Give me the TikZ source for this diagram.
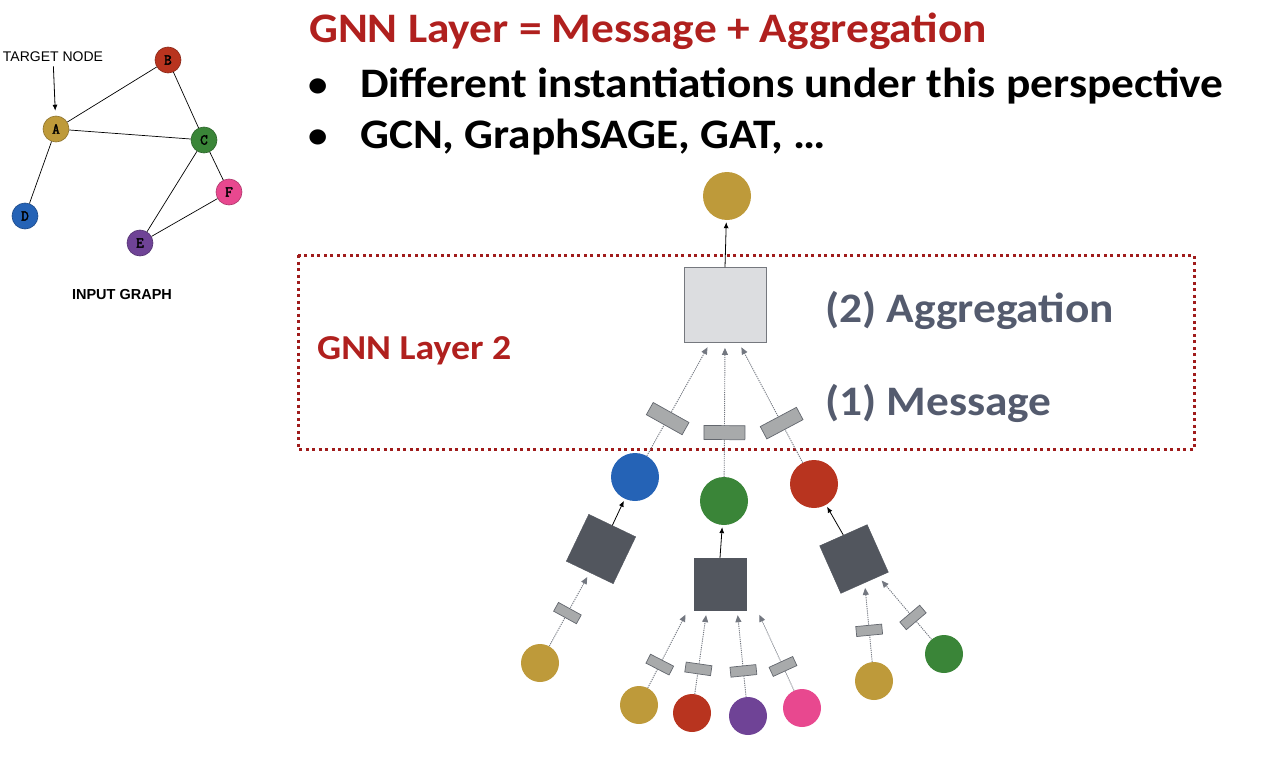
\documentclass[tikz,border=0pt]{standalone}
\usepackage{fontspec}
\setmainfont{Carlito}
\newfontfamily\widefont[FakeStretch=1.08]{Carlito}
\newfontfamily\helv{Liberation Sans}
\newfontfamily\cour[FakeBold=2.5]{Latin Modern Mono}
\usetikzlibrary{arrows.meta,positioning}

\definecolor{vgold}{HTML}{BE9A3A}
\definecolor{vred}{HTML}{B8341F}
\definecolor{vgreen}{HTML}{3A8538}
\definecolor{vblue}{HTML}{2563B6}
\definecolor{vpurple}{HTML}{6F4396}
\definecolor{vpink}{HTML}{E8488F}
\definecolor{darkbox}{HTML}{52565E}
\definecolor{lightbox}{HTML}{DCDDE0}
\definecolor{msgfill}{HTML}{A8AAAB}
\definecolor{titlered}{HTML}{B0201E}
\definecolor{borderred}{HTML}{A01C1C}
\definecolor{slate}{HTML}{545B6E}
\definecolor{arrowgray}{HTML}{737780}

\begin{document}
\begin{tikzpicture}[
  x=1pt, y=-1pt,
  vert/.style={circle, fill=#1, draw=#1!75!black, line width=0.6pt,
               minimum size=26pt, inner sep=0pt, font=\cour\fontsize{15}{15}\selectfont},
  emb/.style={circle, fill=#1, minimum size=48pt, inner sep=0pt},
  leaf/.style={circle, fill=#1, minimum size=38pt, inner sep=0pt},
  agg/.style={draw=darkbox, fill=darkbox, minimum size=52pt, inner sep=0pt},
  msg/.style={solid, draw=darkbox!90, fill=msgfill, line width=0.7pt, sloped,
              minimum width=14pt, minimum height=41pt, inner sep=0pt},
  smallmsg/.style={msg, minimum width=10pt, minimum height=26pt},
  headline/.style={anchor=base west, inner sep=0pt, font=\widefont\bfseries\fontsize{42}{42}\selectfont},
  flow/.style={-{Latex[length=6pt,width=5pt]}, line width=0.8pt, shorten >=2pt},
  msgflow/.style={-{Triangle[length=7pt,width=6pt]}, arrowgray, line width=0.9pt,
                  dash pattern=on 1.2pt off 1pt, shorten >=5pt}
]
  \useasboundingbox (0,0) rectangle (1280,779);

  % input graph
  \node[vert=vgold] (A) at (56,129) {A};
  \node[vert=vred] (B) at (168,60) {B};
  \node[vert=vgreen] (C) at (204,140) {C};
  \node[vert=vblue] (D) at (25,216) {D};
  \node[vert=vpurple] (E) at (140,243) {E};
  \node[vert=vpink] (F) at (229,192) {F};
  \draw[line width=0.7pt] (A) -- (B) (A) -- (C) (B) -- (C) (A) -- (D)
    (C) -- (E) (C) -- (F) (E) -- (F);
  \node[font=\helv\fontsize{14}{14}\selectfont] (target) at (53,57) {TARGET NODE};
  \draw[flow, shorten <=1pt, shorten >=5pt] (target) -- (A);
  \node[font=\helv\bfseries\fontsize{14.5}{14.5}\selectfont] (input) at (122,295) {INPUT GRAPH};

  % header
  \node[headline, text=titlered] (title) at (309,42) {GNN Layer = Message + Aggregation};
  \node[headline] (pt1) at (308,97)
        {\makebox[52pt][l]{\fontsize{36}{36}\selectfont\raisebox{1pt}{\textbullet}}Different instantiations under this perspective};
  \node[headline] (pt2) at (308,148)
        {\makebox[52pt][l]{\fontsize{36}{36}\selectfont\raisebox{1pt}{\textbullet}}GCN, GraphSAGE, GAT, \ldots};

  % layer 2
  \draw[borderred, line width=3pt, dash pattern=on 3pt off 3.5pt] (298,255) rectangle (1194,449);
  \node[headline, text=titlered, font=\widefont\bfseries\fontsize{35}{35}\selectfont]
        (layer) at (317,359) {GNN Layer 2};
  \node[headline, text=slate] (aggtext) at (825,322) {(2) Aggregation};
  \node[headline, text=slate] (msgtext) at (825,415) {(1) Message};

  \node[emb=vgold] (out) at (727,196) {};
  \node[draw=darkbox!80, fill=lightbox, line width=0.8pt, minimum width=82pt,
        minimum height=75pt, inner sep=0pt] (aggtop) at (725,305) {};
  \draw[flow] (aggtop.north) -- (out);

  \node[emb=vblue] (blue1) at (635,477) {};
  \node[emb=vgreen] (green1) at (724,501) {};
  \node[emb=vred] (red1) at (814,484) {};
  \draw[msgflow] (blue1) -- node[msg, pos=0.33] {} ([xshift=-15pt]aggtop.south);
  \draw[msgflow] (green1) -- node[msg, pos=0.33] {} (aggtop.south);
  \draw[msgflow] (red1) -- node[msg, pos=0.33] {} ([xshift=14pt]aggtop.south);

  % layer 1
  \node[agg, rotate=-25.6] (aggL) at (601,549) {};
  \node[agg] (aggM) at (720,584) {};
  \node[agg, rotate=24] (aggR) at (854,559) {};
  \draw[flow] (aggL.north) -- (blue1);
  \draw[flow] (aggM.north) -- (green1);
  \draw[flow] (aggR.north) -- (red1);

  \node[leaf=vgold] (goldL) at (540,663) {};
  \node[leaf=vgold] (goldM) at (639,705) {};
  \node[leaf=vred] (redM) at (692,713) {};
  \node[leaf=vpurple] (purpM) at (748,716) {};
  \node[leaf=vpink] (pinkM) at (802,708) {};
  \node[leaf=vgold] (goldR) at (874,681) {};
  \node[leaf=vgreen] (greenR) at (944,654) {};

  \draw[msgflow] (goldL) -- node[smallmsg, pos=0.45] {} (aggL.south);
  \draw[msgflow] (goldM) -- node[smallmsg, pos=0.3] {} ([xshift=-6pt]aggM.south west);
  \draw[msgflow] (redM) -- node[smallmsg, pos=0.3] {} ([xshift=13pt]aggM.south west);
  \draw[msgflow] (purpM) -- node[smallmsg, pos=0.3] {} ([xshift=-9pt]aggM.south east);
  \draw[msgflow] (pinkM) -- node[smallmsg, pos=0.3] {} ([xshift=11pt]aggM.south east);
  \draw[msgflow] (goldR) -- node[smallmsg, pos=0.4] {} (aggR.south);
  \draw[msgflow] (greenR) -- node[smallmsg, pos=0.35] {} (aggR.-60);
\end{tikzpicture}
\end{document}
